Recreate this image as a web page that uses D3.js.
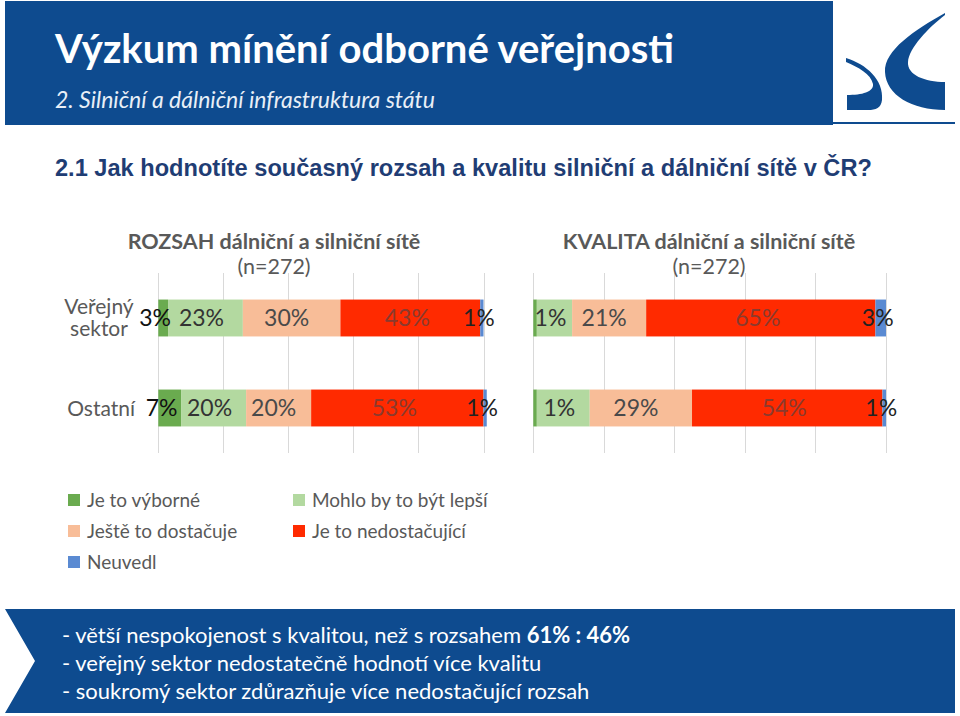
<!DOCTYPE html>
<html>
<head>
<meta charset="utf-8">
<title>Výzkum mínění odborné veřejnosti</title>
<script src="https://d3js.org/d3.v7.min.js"></script>
<style>
html, body {
  margin: 0;
  background: #fff;
}
svg text {
  font-family: Lato, "Open Sans", sans-serif;
}
.grid line {
  stroke: #d9d9d9;
  stroke-width: 1;
  shape-rendering: crispEdges;
}
</style>
</head>
<body>
<svg width="960" height="716"></svg>
<script>
// data
var categories = ["Je to výborné", "Mohlo by to být lepší", "Ještě to dostačuje", "Je to nedostačující", "Neuvedl"];
var colors = ["#6aab4f", "#b3d9a0", "#f8bd98", "#ff2a00", "#5a8ad2"];
var labelColors = ["#111", "#333", "#4a4a4a", "#8a3a2e", "#222"];
var rows = ["Veřejný sektor", "Ostatní"];

var rozsahVerejny = [3, 23, 30, 43, 1];
var rozsahOstatni = [7, 20, 20, 53, 1];
var kvalitaVerejny = [1, 10, 21, 65, 3];
var kvalitaOstatni = [1, 15, 29, 54, 1];

var rozsahLabels = [["3%", "23%", "30%", "43%", "1%"], ["7%", "20%", "20%", "53%", "1%"]];
var kvalitaLabels = [[null, "1%", "21%", "65%", "3%"], [null, "1%", "29%", "54%", "1%"]];

var gridTicks = [0, 20, 40, 60, 80, 100];

// small nudges of the value labels, like in the original export
var labelShift = [-8, -4, -5, -3, -3];

var svg = d3.select("svg");
var blue = "#0e4b8f";

// header band
svg.append("rect").attr("x", 5).attr("y", 1).attr("width", 828).attr("height", 124).attr("fill", blue);
svg.append("rect").attr("x", 833).attr("y", 122).attr("width", 122).attr("height", 2).attr("fill", blue);

svg.append("text")
    .attr("x", 55).attr("y", 63)
    .attr("fill", "#fff")
    .style("font-size", "40px").style("font-weight", "bold")
    .text("Výzkum mínění odborné veřejnosti");

svg.append("text")
    .attr("x", 55).attr("y", 108)
    .attr("fill", "#e9eff7")
    .style("font-size", "23px").style("font-style", "italic")
    .text("2. Silniční a dálniční infrastruktura státu");

// logo
svg.append("path")
    .attr("d", "M846,58 C866,64 884,80 882,100 C881,108 876,110 868,110 L847,110 L847,95 C862,95 874,92 873,84 C871,74 858,67 846,62 Z")
    .attr("fill", blue);
svg.append("path")
    .attr("d", "M945,13 C915,30 884,50 885,72 C886,95 912,110 945,110 L945,82 C925,82 907,75 908,62 C909,48 928,28 945,15 Z")
    .attr("fill", blue);

// question
svg.append("text")
    .attr("x", 55).attr("y", 176)
    .attr("fill", "#1f3d74")
    .style("font-family", "'Liberation Sans', Arial, sans-serif")
    .style("font-size", "23.6px").style("font-weight", "bold")
    .text("2.1 Jak hodnotíte současný rozsah a kvalitu silniční a dálniční sítě v ČR?");

// shared y band
var y = d3.scaleBand()
    .domain(rows)
    .range([273, 453])
    .paddingInner(0.59)
    .paddingOuter(0.295);

function drawChart(xRange, titleX, title, series, labels) {
    var x = d3.scaleLinear().domain([0, 100]).range(xRange);
    var g = svg.append("g");

    g.append("g").attr("class", "grid")
        .selectAll("line")
        .data(gridTicks)
        .enter().append("line")
        .attr("x1", function(d) { return Math.round(x(d)) + 0.5; })
        .attr("x2", function(d) { return Math.round(x(d)) + 0.5; })
        .attr("y1", y.range()[0])
        .attr("y2", y.range()[1]);

    g.append("text")
        .attr("x", titleX).attr("y", 249)
        .attr("text-anchor", "middle")
        .attr("fill", "#595959")
        .style("font-size", "21.5px").style("font-weight", "bold")
        .text(title);
    g.append("text")
        .attr("x", titleX).attr("y", 274)
        .attr("text-anchor", "middle")
        .attr("fill", "#595959")
        .style("font-size", "21.5px")
        .text("(n=272)");

    series.forEach(function(vals, r) {
        var acc = 0;
        var segs = vals.map(function(v, i) {
            var s = {start: acc, value: v, i: i, label: labels[r][i]};
            acc += v;
            return s;
        });
        var row = g.append("g");
        row.selectAll("rect")
            .data(segs)
            .enter().append("rect")
            .attr("x", function(d) { return x(d.start); })
            .attr("y", y(rows[r]))
            .attr("width", function(d) { return x(d.start + d.value) - x(d.start); })
            .attr("height", y.bandwidth())
            .attr("fill", function(d) { return colors[d.i]; });
        row.selectAll("text")
            .data(segs.filter(function(d) { return d.label; }))
            .enter().append("text")
            .attr("x", function(d) { return x(d.start + d.value / 2) + labelShift[d.i]; })
            .attr("y", y(rows[r]) + y.bandwidth() / 2)
            .attr("dy", "0.36em")
            .attr("text-anchor", "middle")
            .attr("fill", function(d) { return labelColors[d.i]; })
            .style("font-size", "23px")
            .text(function(d) { return d.label; });
    });
}

drawChart([158.3, 483.5], 274, "ROZSAH dálniční a silniční sítě", [rozsahVerejny, rozsahOstatni], rozsahLabels);
drawChart([533.3, 886], 709, "KVALITA dálniční a silniční sítě", [kvalitaVerejny, kvalitaOstatni], kvalitaLabels);

// row labels (first one wraps on two lines)
var rowLab = svg.append("g")
    .attr("fill", "#595959")
    .style("font-size", "21px")
    .attr("text-anchor", "middle");
var wrapped = rowLab.append("text")
    .attr("y", y(rows[0]) + y.bandwidth() / 2 - 4);
rows[0].split(" ").forEach(function(w, i) {
    wrapped.append("tspan")
        .attr("x", 99)
        .attr("dy", i ? 22 : 0)
        .text(w);
});
rowLab.append("text")
    .attr("x", 135).attr("y", y(rows[1]) + y.bandwidth() / 2 + 8)
    .attr("text-anchor", "end")
    .text(rows[1]);

// legend
var legendPos = [[68, 500], [293, 500], [68, 531], [293, 531], [68, 562]];
var legend = svg.append("g")
    .selectAll("g")
    .data(categories)
    .enter().append("g")
    .attr("transform", function(d, i) { return "translate(" + legendPos[i][0] + "," + legendPos[i][1] + ")"; });
legend.append("rect")
    .attr("x", 0).attr("y", -6)
    .attr("width", 12).attr("height", 12)
    .attr("fill", function(d, i) { return colors[i]; });
legend.append("text")
    .attr("x", 19).attr("y", 0)
    .attr("dy", "0.35em")
    .attr("fill", "#595959")
    .style("font-size", "19px")
    .text(function(d) { return d; });

// footer band
svg.append("path")
    .attr("d", "M5,609 L955,609 L955,713 L5,713 L35,661 Z")
    .attr("fill", blue);

var foot = svg.append("g")
    .attr("fill", "#fff")
    .style("font-size", "22px");
var l1 = foot.append("text").attr("x", 62).attr("y", 643);
l1.append("tspan").text("- větší nespokojenost s kvalitou, než s rozsahem ");
l1.append("tspan").style("font-weight", "bold").text("61% : 46%");
foot.append("text").attr("x", 62).attr("y", 671)
    .text("- veřejný sektor nedostatečně hodnotí více kvalitu");
foot.append("text").attr("x", 62).attr("y", 699)
    .text("- soukromý sektor zdůrazňuje více nedostačující rozsah");
</script>
</body>
</html>
